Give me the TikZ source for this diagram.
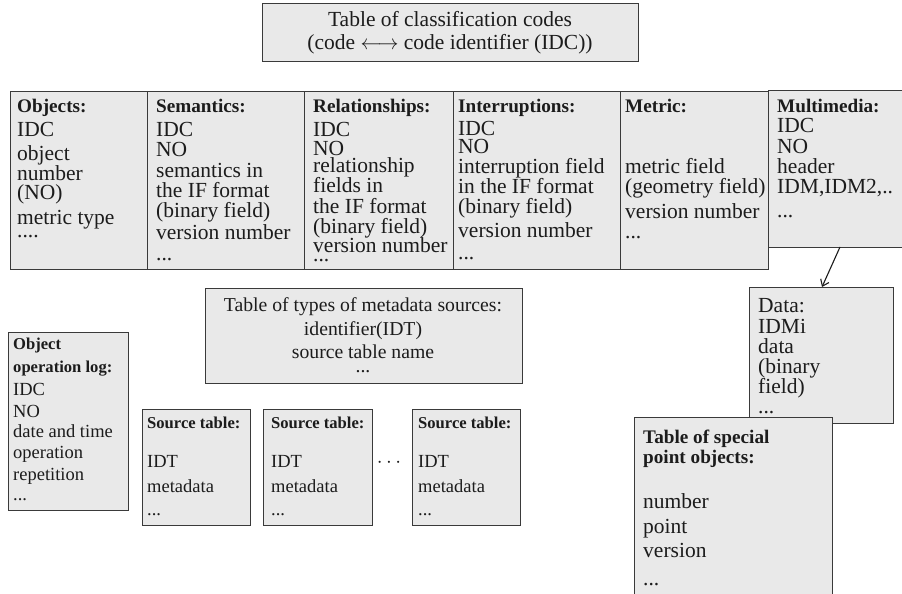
\documentclass[tikz,border=0pt]{standalone}
\usepackage{fontspec}
\setmainfont{Liberation Serif}
\usetikzlibrary{arrows.meta}
\definecolor{boxfill}{HTML}{E9E9E9}
\definecolor{boxline}{HTML}{3A3A3A}
\definecolor{ink}{HTML}{1C1C1C}
\newcommand\hd{\fontsize{19.2}{19}\selectfont\bfseries}
\newcommand\hds{\fontsize{16.6}{17}\selectfont\bfseries}
\newcommand\tdots{...}
\newcommand\qdots{....}
\tikzset{
  tbl/.style 2 args={draw=boxline, fill=boxfill, line width=1pt, anchor=north west,
    inner sep=0pt, outer sep=0pt, minimum width=#1pt, minimum height=#2pt},
  txt/.style={anchor=base west, inner sep=0pt, text=ink, font=\fontsize{21.5}{21.5}\selectfont},
  stxt/.style={txt, font=\fontsize{18.5}{18.5}\selectfont},
  ctxt/.style={txt, anchor=base},
  mtxt/.style={ctxt, font=\fontsize{19.7}{20}\selectfont},
  link/.style={draw=ink, line width=1.1pt, -{Straight Barb[length=6pt,width=9pt]}},
}
\begin{document}
\begin{tikzpicture}[x=1pt,y=-1pt]
\useasboundingbox (0,0) rectangle (902,594);

% title table
\node[tbl={376}{58}] (codes) at (262,4) {};
\node[ctxt] (codes1) at (450,27) {Table of classification codes};
\node[ctxt] (codes2) at (450,50) {(code $\longleftrightarrow$ code identifier (IDC))};

% main row of tables
\node[tbl={137}{178}] (obj) at (10,91) {};
\node[tbl={157}{178}] (sem) at (147,91) {};
\node[tbl={149}{178}] (rel) at (304,91) {};
\node[tbl={167}{178}] (intr) at (453,91) {};
\node[tbl={148}{178}] (met) at (620,91) {};
\node[tbl={140}{157}] (mm) at (768,90) {};

\foreach \ry/\rt [count=\i] in {112/{\hd Objects:},136/IDC,160/object,180/number,199/(NO),224/metric type,237/\qdots}
  \node[txt] (objl\i) at (17,\ry) {\rt};
\foreach \ry/\rt [count=\i] in {112/{\hd Semantics:},136/IDC,156/NO,177/semantics in,197/the IF format,217/(binary field),239/version number,260/\tdots}
  \node[txt] (seml\i) at (156,\ry) {\rt};
\foreach \ry/\rt [count=\i] in {112/{\hd Relationships:},136/IDC,155/NO,172/relationship,192/fields in,213/the IF format,233/(binary field),252/version number,261/\tdots}
  \node[txt] (rell\i) at (313,\ry) {\rt};
\foreach \ry/\rt [count=\i] in {112/{\hd Interruptions:},135/IDC,153/NO,173/interruption field,193/in the IF format,213/(binary field),237/version number,259/\tdots}
  \node[txt] (intrl\i) at (458,\ry) {\rt};
\foreach \ry/\rt [count=\i] in {112/{\hd Metric:},173/metric field,193/(geometry field),218/version number,238/\tdots}
  \node[txt] (metl\i) at (625,\ry) {\rt};
\foreach \ry/\rt [count=\i] in {112/{\hd Multimedia:},132/IDC,153/NO,173/header,193/{IDM,IDM2,..},217/\tdots}
  \node[txt] (mml\i) at (777,\ry) {\rt};

% multimedia data table
\node[tbl={144}{136}] (data) at (749,287) {};
\foreach \ry/\rt [count=\i] in {312/Data:,333/IDMi,353/data,373/(binary,393/field),413/\tdots}
  \node[txt] (datal\i) at (758,\ry) {\rt};
\draw[link] ([xshift=72pt]mm.south west) -- ([xshift=73pt]data.north west);

% metadata sources
\node[tbl={317}{95}] (types) at (205,288) {};
\foreach \ry/\rt [count=\i] in {311/Table of types of metadata sources:,335/identifier(IDT),358/source table name,372/\tdots}
  \node[mtxt] (typesl\i) at (363,\ry) {\rt};

% object operation log
\node[tbl={120}{178}] (log) at (8,332) {};
\foreach \ry/\rt [count=\i] in {349/{\hds Object},372/{\hds operation log:},395/IDC,417/NO,437/date and time,458/operation,480/repetition,500/\tdots}
  \node[stxt] (logl\i) at (13,\ry) {\rt};

% source tables
\node[tbl={108}{116}] (src1) at (142,409) {};
\node[tbl={109}{116}] (src2) at (263,409) {};
\node[tbl={108}{116}] (src3) at (412,409) {};
\foreach \s/\sx in {1/147,2/271,3/418}{
  \foreach \ry/\rt [count=\i] in {428/{\hds Source table:},467/IDT,492/metadata,515/\tdots}
    \node[stxt] (src\s l\i) at (\sx,\ry) {\rt};
}
\node[ctxt] (srcdots) at (389,467) {$\cdots$};

% special point objects
\node[tbl={198}{190}] (spec) at (634,417) {};
\foreach \ry/\rt [count=\i] in {443/{\hd Table of special},463/{\hd point objects:},508/number,533/point,557/version,585/\tdots}
  \node[txt] (specl\i) at (643,\ry) {\rt};
\end{tikzpicture}
\end{document}
